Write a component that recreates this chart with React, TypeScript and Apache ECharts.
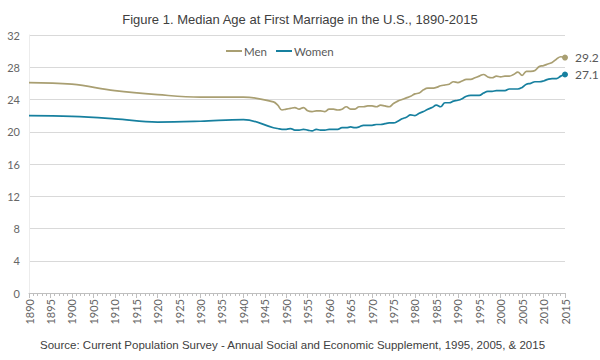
import React, { useEffect, useRef } from "react";
import * as echarts from "echarts";

const years: number[] = [
  1890, 1900, 1910, 1920, 1930, 1940,
  1947, 1948, 1949, 1950, 1951, 1952, 1953, 1954, 1955, 1956, 1957, 1958, 1959,
  1960, 1961, 1962, 1963, 1964, 1965, 1966, 1967, 1968, 1969,
  1970, 1971, 1972, 1973, 1974, 1975, 1976, 1977, 1978, 1979,
  1980, 1981, 1982, 1983, 1984, 1985, 1986, 1987, 1988, 1989,
  1990, 1991, 1992, 1993, 1994, 1995, 1996, 1997, 1998, 1999,
  2000, 2001, 2002, 2003, 2004, 2005, 2006, 2007, 2008, 2009,
  2010, 2011, 2012, 2013, 2014, 2015,
];

const men: number[] = [
  26.1, 25.9, 25.1, 24.6, 24.3, 24.3,
  23.7, 23.3, 22.7, 22.8, 22.9, 23.0, 22.8, 23.0, 22.6, 22.5, 22.6, 22.6, 22.5,
  22.8, 22.8, 22.7, 22.8, 23.1, 22.8, 22.8, 23.1, 23.1, 23.2,
  23.2, 23.1, 23.3, 23.2, 23.1, 23.5, 23.8, 24.0, 24.2, 24.4,
  24.7, 24.8, 25.2, 25.4, 25.4, 25.5, 25.7, 25.8, 25.9, 26.2,
  26.1, 26.3, 26.5, 26.5, 26.7, 26.9, 27.1, 26.8, 26.7, 26.9,
  26.8, 26.9, 26.9, 27.1, 27.4, 27.0, 27.5, 27.5, 27.6, 28.1,
  28.2, 28.4, 28.6, 29.0, 29.3, 29.2,
];

const women: number[] = [
  22.0, 21.9, 21.6, 21.2, 21.3, 21.5,
  20.5, 20.4, 20.3, 20.3, 20.4, 20.2, 20.2, 20.3, 20.2, 20.1, 20.3, 20.2, 20.2,
  20.3, 20.3, 20.3, 20.5, 20.5, 20.6, 20.5, 20.6, 20.8, 20.8,
  20.8, 20.9, 20.9, 21.0, 21.1, 21.1, 21.3, 21.6, 21.8, 22.1,
  22.0, 22.3, 22.5, 22.8, 23.0, 23.3, 23.1, 23.6, 23.6, 23.8,
  23.9, 24.1, 24.4, 24.5, 24.5, 24.5, 24.8, 25.0, 25.0, 25.1,
  25.1, 25.1, 25.3, 25.3, 25.3, 25.5, 25.9, 26.0, 26.2, 26.2,
  26.3, 26.5, 26.6, 26.6, 26.9, 27.1,
];

const yTicks: number[] = [0, 4, 8, 12, 16, 20, 24, 28, 32];

const MEN_COLOR = "#a99f72";
const WOMEN_COLOR = "#17809f";

function buildData(vals: number[], color: string) {
  return vals.map((v, i) => {
    if (i === vals.length - 1) {
      return {
        value: [years[i], v],
        symbol: "circle",
        symbolSize: 6,
        itemStyle: { color },
        label: {
          show: true,
          position: "right",
          distance: 7,
          formatter: (p: any) => p.value[1].toFixed(1),
          color: "#595959",
          fontSize: 12,
          fontFamily: "Lato",
        },
      };
    }
    return { value: [years[i], v], symbol: "none" };
  });
}

export default function App() {
  const ref = useRef<HTMLDivElement>(null);
  useEffect(() => {
    if (!ref.current) return;
    const chart = echarts.init(ref.current, null, { renderer: "svg" });
    chart.setOption({
      animation: false,
      backgroundColor: "#ffffff",
      title: {
        text: "Figure 1. Median Age at First Marriage in the U.S., 1890-2015",
        left: "center",
        top: 8,
        textStyle: {
          fontFamily: "Liberation Sans",
          fontSize: 13,
          fontWeight: "normal",
          color: "#404040",
        },
      },
      legend: {
        left: 221,
        top: 40,
        itemWidth: 16,
        itemHeight: 2,
        itemGap: 9,
        icon: "rect",
        textStyle: { fontFamily: "Lato", fontSize: 11.5, color: "#595959", padding: [0, 0, 0, -3] },
        data: ["Men", "Women"],
      },
      graphic: [
        {
          type: "text",
          left: 40,
          top: 339,
          style: {
            text: "Source: Current Population Survey - Annual Social and Economic Supplement, 1995, 2005, & 2015",
            fontFamily: "Liberation Sans",
            fontSize: 11.5,
            fill: "#404040",
          },
        },
      ],
      grid: { left: 29, right: 35, top: 35, bottom: 67 },
      xAxis: {
        type: "value",
        min: 1890,
        max: 2015,
        interval: 5,
        axisLine: { show: true, lineStyle: { color: "#bfbfbf" } },
        axisTick: { show: true, length: 5, lineStyle: { color: "#bfbfbf" } },
        minorTick: { show: true, splitNumber: 5, length: 3, lineStyle: { color: "#bfbfbf" } },
        splitLine: { show: false },
        axisLabel: {
          rotate: 90,
          margin: 6,
          fontFamily: "Lato",
          fontSize: 11,
          color: "#666666",
          formatter: (v: number) => String(v),
        },
      },
      yAxis: {
        type: "value",
        min: yTicks[0],
        max: yTicks[yTicks.length - 1],
        interval: 4,
        axisLine: { show: true, lineStyle: { color: "#ececec" } },
        axisTick: { show: false },
        splitLine: { show: true, lineStyle: { color: "#d9d9d9", width: 1 } },
        axisLabel: { margin: 9, fontFamily: "Lato", fontSize: 11, color: "#666666" },
      },
      series: [
        {
          name: "Men",
          type: "line",
          smooth: 0.4,
          color: MEN_COLOR,
          lineStyle: { color: MEN_COLOR, width: 1.7 },
          data: buildData(men, MEN_COLOR),
        },
        {
          name: "Women",
          type: "line",
          smooth: 0.4,
          color: WOMEN_COLOR,
          lineStyle: { color: WOMEN_COLOR, width: 1.7 },
          data: buildData(women, WOMEN_COLOR),
        },
      ],
    });
    return () => chart.dispose();
  }, []);
  return <div ref={ref} style={{ width: 600, height: 360, position: "absolute", left: 0, top: 0 }} />;
}
